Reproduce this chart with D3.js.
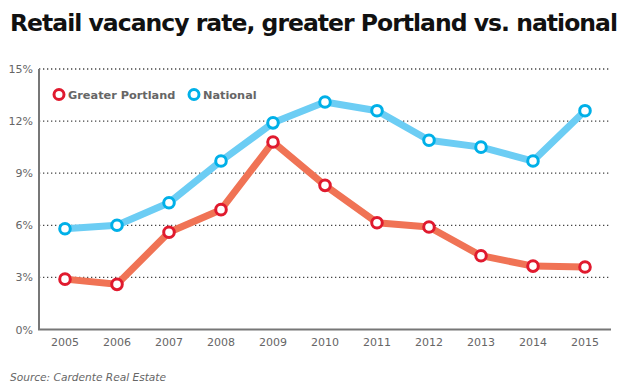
<!DOCTYPE html>
<html><head><meta charset="utf-8">
<script src="https://cdn.jsdelivr.net/npm/d3@7/dist/d3.min.js"></script>
<style>body{margin:0;background:#fff}svg{display:block}</style>
</head><body><svg id="c" width="624" height="390"></svg>
<script>
const years = ["2005","2006","2007","2008","2009","2010","2011","2012","2013","2014","2015"];
const portland = [2.9,2.6,5.6,6.9,10.8,8.3,6.15,5.9,4.25,3.65,3.6];
const national = [5.8,6.0,7.3,9.7,11.9,13.1,12.6,10.9,10.5,9.7,12.6];
const yTicks = [0,3,6,9,12,15];
const seriesNames = ["Greater Portland","National"];

(function(){
const svg = d3.select("#c");
const mL = 39, mR = 611, mT = 69, mB = 329.5;
const x = d3.scaleBand().domain(years).range([mL,mR]);
const y = d3.scaleLinear().domain([0,15]).range([mB,mT]);
const cx = d => x(d) + x.bandwidth()/2;

// title
const txt = "Retail vacancy rate, greater Portland vs. national";
const title = svg.append("text").attr("x",10).attr("y",31)
  .attr("font-family","DejaVu Sans").attr("font-weight","bold").attr("font-size",23.5)
  .attr("fill","#111").text(txt);
const w = title.node().getComputedTextLength();
title.attr("letter-spacing", (608 - w)/(txt.length-1));

// gridlines
svg.append("g").selectAll("line").data(yTicks.filter(t=>t>0)).join("line")
  .attr("x1",mL).attr("x2",mR).attr("y1",d=>y(d)).attr("y2",d=>y(d))
  .attr("stroke","#444").attr("stroke-width",1.3).attr("stroke-dasharray","1.3,2.7");

// y axis
const ya = svg.append("g").attr("transform",`translate(${mL},0)`)
  .call(d3.axisLeft(y).tickValues(yTicks).tickSize(0).tickPadding(6).tickFormat(d=>d+"%"));
ya.select(".domain").attr("stroke","#777").attr("stroke-width",2).attr("d",`M0,${mT}V${mB}`);
ya.selectAll("text").attr("font-family","DejaVu Sans").attr("font-size",11).attr("fill","#666");

// x axis
const xa = svg.append("g").attr("transform",`translate(0,${mB})`)
  .call(d3.axisBottom(x).tickSize(0).tickPadding(9));
xa.select(".domain").attr("stroke","#777").attr("stroke-width",2).attr("d",`M${mL-1},0H${mR}`);
xa.selectAll("text").attr("font-family","DejaVu Sans").attr("font-size",11).attr("fill","#666");

const line = d3.line().x((d,i)=>cx(years[i])).y(d=>y(d));
const series = [
  {name:seriesNames[0], vals:portland, line:"#f07355", mark:"#e01a2e"},
  {name:seriesNames[1], vals:national, line:"#6ccdf4", mark:"#00b0e8"}
];
series.forEach(s=>{
  svg.append("path").attr("d",line(s.vals)).attr("fill","none")
    .attr("stroke",s.line).attr("stroke-width",7).attr("stroke-linejoin","round");
});
series.forEach(s=>{
  svg.append("g").selectAll("circle").data(s.vals).join("circle")
    .attr("cx",(d,i)=>cx(years[i])).attr("cy",d=>y(d)).attr("r",5.3)
    .attr("fill","#fff").attr("stroke",s.mark).attr("stroke-width",3);
});

// legend
const leg = [{x:59},{x:194}];
series.forEach((s,i)=>{
  svg.append("circle").attr("cx",leg[i].x).attr("cy",94.5).attr("r",5)
    .attr("fill","#fff").attr("stroke",s.mark).attr("stroke-width",3);
  svg.append("text").attr("x",leg[i].x+9).attr("y",99).attr("font-family","DejaVu Sans")
    .attr("font-weight","bold").attr("font-size",11.3).attr("fill","#666").text(s.name);
});

// source
svg.append("text").attr("x",10).attr("y",381).attr("font-family","DejaVu Sans")
  .attr("font-style","italic").attr("font-size",10.6).attr("fill","#666").text("Source: Cardente Real Estate");
})();
</script></body></html>
